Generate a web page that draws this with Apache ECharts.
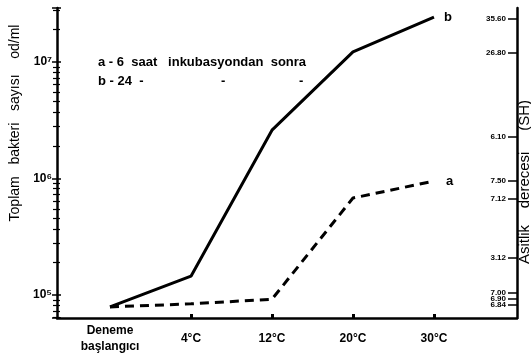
<!DOCTYPE html>
<html><head><meta charset="utf-8">
<script src="https://cdn.jsdelivr.net/npm/echarts@6/dist/echarts.min.js"></script>
<style>html,body{margin:0;padding:0;background:#fff}#c{width:531px;height:356px}</style>
</head><body><div id="c"></div>
<script>
// ---- data ----
const categories = ['Deneme\nbaşlangıcı', '4°C', '12°C', '20°C', '30°C'];
const seriesA = [79000, 84000, 92000, 680000, 950000];          // a - 6 saat inkubasyondan sonra
const seriesB = [79000, 145000, 2600000, 12200000, 24300000];   // b - 24 saat
const leftTickLabels = ['10⁵', '10⁶', '10⁷'];                   // at 1e5, 1e6, 1e7
const leftTickExponents = [5, 6, 7];
// right axis (Asitlik derecesi) labels, placed at heights on the same log scale (log10 of count)
const rightTickExponents = [7.369, 7.077, 6.356, 5.979, 5.824, 5.318, 5.018, 4.966, 4.915, 4.863];
const rightTickLabels = ['35.60', '26.80', '6.10', '7.50', '7.12', '3.12', '7.00', '6.90', '6.84', '6.80'];
const yMin = 63500, yMax = 29060000;

const font = 'Liberation Sans, Arial, sans-serif';
const chart = echarts.init(document.getElementById('c'), null, {renderer: 'canvas'});

function nearestLabel(v, vals, labels) {
  let best = 0;
  for (let i = 1; i < vals.length; i++) if (Math.abs(vals[i] - v) < Math.abs(vals[best] - v)) best = i;
  return labels[best];
}

const axisLine = {show: true, onZero: false, lineStyle: {color: '#000', width: 2.5}};

chart.setOption({
  backgroundColor: '#fff',
  animation: false,
  grid: {left: 57, right: 14, top: 8, bottom: 38, containLabel: false, outerBoundsMode: 'none'},
  xAxis: {
    type: 'value', min: -0.654, max: 5.025,
    axisLine: axisLine,
    splitLine: {show: false},
    axisTick: {show: true, customValues: [1, 2, 3, 4], inside: true, length: 4, lineStyle: {color: '#000', width: 3}},
    axisLabel: {
      customValues: [0, 1, 2, 3, 4],
      formatter: v => categories[Math.round(v)],
      color: '#000', fontFamily: font, fontWeight: 'bold', fontSize: 12, lineHeight: 16,
      verticalAlign: 'middle', margin: 21
    }
  },
  yAxis: [
    {
      type: 'log', min: yMin, max: yMax, position: 'left',
      axisLine: axisLine,
      splitLine: {show: false},
      axisTick: {show: true, length: 5, lineStyle: {color: '#000', width: 1.5}},
      minorTick: {show: true, splitNumber: 10, length: 4, lineStyle: {color: '#000', width: 1.2}},
      minorSplitLine: {show: false},
      axisLabel: {
        showMinLabel: false, showMaxLabel: false,
        formatter: v => nearestLabel(Math.log10(v), leftTickExponents, leftTickLabels),
        color: '#000', fontFamily: font, fontWeight: 'bold', fontSize: 12, margin: 5
      }
    },
    {
      type: 'log', min: yMin, max: yMax, position: 'left',
      axisLine: {show: false, onZero: false},
      splitLine: {show: false},
      axisTick: {show: true, inside: true, length: 4, lineStyle: {color: '#000', width: 1.5}},
      minorTick: {show: true, splitNumber: 10, length: 3, lineStyle: {color: '#000', width: 1.2}},
      minorSplitLine: {show: false},
      axisLabel: {show: false}
    },
    {
      type: 'value', min: Math.log10(yMin), max: Math.log10(yMax), position: 'right',
      axisLine: axisLine,
      splitLine: {show: false},
      axisTick: {show: true, inside: true, length: 9, customValues: rightTickExponents, lineStyle: {color: '#000', width: 1.5}},
      axisLabel: {
        inside: true, margin: 11,
        customValues: rightTickExponents,
        formatter: v => nearestLabel(v, rightTickExponents, rightTickLabels),
        color: '#000', fontFamily: font, fontWeight: 'bold', fontSize: 8
      }
    }
  ],
  graphic: [
    {type: 'text', x: 15, y: 123, rotation: Math.PI / 2,
     style: {text: 'Toplam   bakteri   sayısı    od/ml', fill: '#000', font: '14px ' + font, textAlign: 'center', textVerticalAlign: 'middle'}},
    {type: 'text', x: 525, y: 182, rotation: Math.PI / 2,
     style: {text: 'Asitlik    derecesi     (SH)', fill: '#000', font: '15px ' + font, textAlign: 'center', textVerticalAlign: 'middle'}},
    {type: 'text', x: 98, y: 62,
     style: {text: 'a - 6  saat   inkubasyondan  sonra', fill: '#000', font: 'bold 13px ' + font, textVerticalAlign: 'middle'}},
    {type: 'text', x: 98, y: 81,
     style: {text: 'b - 24  -', fill: '#000', font: 'bold 13px ' + font, textVerticalAlign: 'middle'}},
    {type: 'text', x: 221, y: 81,
     style: {text: '-', fill: '#000', font: 'bold 13px ' + font, textVerticalAlign: 'middle'}},
    {type: 'text', x: 299, y: 81,
     style: {text: '-', fill: '#000', font: 'bold 13px ' + font, textVerticalAlign: 'middle'}}
  ],
  series: [
    {
      name: 'b', type: 'line', xAxisIndex: 0, yAxisIndex: 0,
      data: seriesB.map((v, i) => [i, v]),
      symbol: 'none', lineStyle: {color: '#000', width: 3},
      endLabel: {show: true, formatter: 'b', distance: 10, color: '#000', fontFamily: font, fontWeight: 'bold', fontSize: 13}
    },
    {
      name: 'a', type: 'line', xAxisIndex: 0, yAxisIndex: 0,
      data: seriesA.map((v, i) => [i, v]),
      symbol: 'none', lineStyle: {color: '#000', width: 3, type: [9, 6]},
      endLabel: {show: true, formatter: 'a', distance: 12, color: '#000', fontFamily: font, fontWeight: 'bold', fontSize: 13}
    }
  ]
});
</script>
</body></html>
